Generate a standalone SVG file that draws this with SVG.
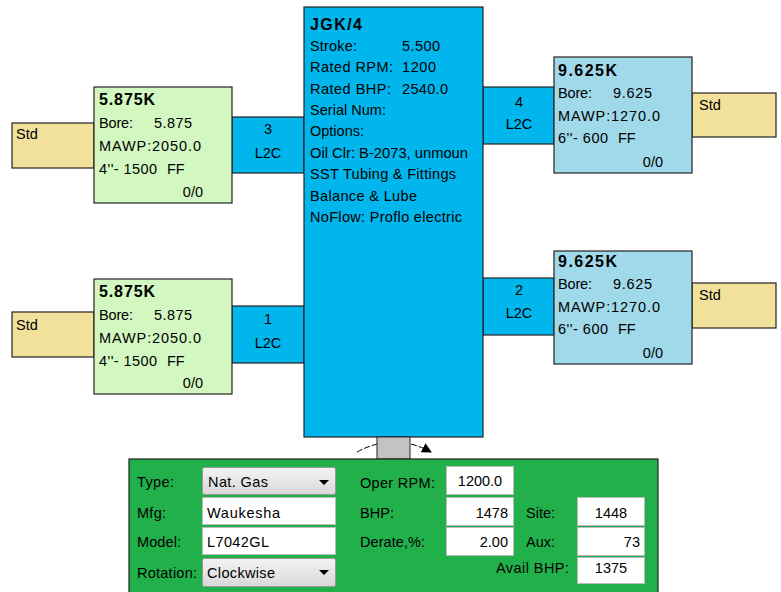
<svg xmlns="http://www.w3.org/2000/svg" width="781" height="592" viewBox="0 0 781 592">
<defs>
<style>
text{font-family:"Liberation Sans",Arial,sans-serif;font-size:14.5px;fill:#000}
.t{font-size:16px;font-weight:bold}
.std{fill:#f2e19b;stroke:#222;stroke-width:1.2}
.grn{fill:#d3f7c1;stroke:#222;stroke-width:1.2}
.lb{fill:#a0d9ea;stroke:#222;stroke-width:1.2}
.blu{fill:#00b6ec;stroke:#222;stroke-width:1.2}
.tb{fill:#fff;stroke:#bbb;stroke-width:1}
.dd{fill:url(#ddg);stroke:#999;stroke-width:1}
.m{text-anchor:middle}
.e{text-anchor:end}
</style>
<linearGradient id="ddg" x1="0" y1="0" x2="0" y2="1">
<stop offset="0" stop-color="#f4f4f4"/>
<stop offset="1" stop-color="#d8d8d8"/>
</linearGradient>
<marker id="ah" viewBox="0 0 10 10" refX="9" refY="5" markerWidth="10" markerHeight="10" orient="auto" markerUnits="userSpaceOnUse">
<path d="M0,0 L10,5 L0,10 z" fill="#000"/>
</marker>
</defs>
<rect width="781" height="592" fill="#fff"/>

<g id="connectors">
<path d="M357,452 Q394,432 431,452" fill="none" stroke="#000" stroke-width="1" stroke-dasharray="6,2" marker-end="url(#ah)"/>
<g id="conn3"><rect x="232" y="117" width="72" height="56" class="blu"/><text x="268" y="134" class="m">3</text><text x="268" y="158" class="m">L2C</text></g>
<g id="conn1"><rect x="232" y="306" width="72" height="57" class="blu"/><text x="268" y="324" class="m">1</text><text x="268" y="348" class="m">L2C</text></g>
<g id="conn4"><rect x="483" y="87" width="71" height="57" class="blu"/><text x="519" y="107" class="m">4</text><text x="519" y="129" class="m">L2C</text></g>
<g id="conn2"><rect x="483" y="278" width="71" height="57" class="blu"/><text x="519" y="295" class="m">2</text><text x="519" y="318" class="m">L2C</text></g>
</g>

<g id="frame">
<rect x="304" y="7" width="179" height="430" class="blu"/>
<text x="310" y="30" class="t" fill="#2a1a0a" textLength="52">JGK/4</text>
<text x="310" y="51" textLength="47">Stroke:</text><text x="402" y="51" textLength="38">5.500</text>
<text x="310" y="72" textLength="83">Rated RPM:</text><text x="402" y="72" textLength="34">1200</text>
<text x="310" y="93.5" textLength="81">Rated BHP:</text><text x="402" y="93.5" textLength="46">2540.0</text>
<text x="310" y="115" textLength="76">Serial Num:</text>
<text x="310" y="136" textLength="54">Options:</text>
<text x="310" y="157.5" textLength="158" lengthAdjust="spacingAndGlyphs">Oil Clr: B-2073, unmoun</text>
<text x="310" y="179" textLength="146">SST Tubing &amp; Fittings</text>
<text x="310" y="200.5" textLength="107">Balance &amp; Lube</text>
<text x="310" y="222" textLength="152">NoFlow: Proflo electric</text>
</g>

<g id="shaft"><rect x="377" y="437" width="33" height="22" fill="#c3c3c3" stroke="#222" stroke-width="1"/></g>

<g id="cyl3">
<rect x="12" y="123" width="82" height="45" class="std"/><text x="16" y="139">Std</text>
<rect x="94" y="87" width="138" height="116" class="grn"/>
<text x="99" y="105" class="t" textLength="56">5.875K</text>
<text x="99" y="128" textLength="34">Bore:</text><text x="154" y="128" textLength="38">5.875</text>
<text x="99" y="151" textLength="102">MAWP:2050.0</text>
<text x="99" y="174" textLength="58">4''- 1500</text><text x="167" y="174">FF</text>
<text x="203" y="197" class="e">0/0</text>
</g>

<g id="cyl1">
<rect x="12" y="312" width="82" height="45" class="std"/><text x="16" y="330">Std</text>
<rect x="94" y="279" width="138" height="115" class="grn"/>
<text x="99" y="297" class="t" textLength="56">5.875K</text>
<text x="99" y="320" textLength="34">Bore:</text><text x="154" y="320" textLength="38">5.875</text>
<text x="99" y="343" textLength="102">MAWP:2050.0</text>
<text x="99" y="366" textLength="58">4''- 1500</text><text x="167" y="366">FF</text>
<text x="203" y="388" class="e">0/0</text>
</g>

<g id="cyl4">
<rect x="692" y="93" width="84" height="44" class="std"/><text x="699" y="110">Std</text>
<rect x="554" y="57" width="138" height="116" class="lb"/>
<text x="558" y="76" class="t" textLength="59">9.625K</text>
<text x="558" y="98" textLength="34">Bore:</text><text x="613" y="98" textLength="39">9.625</text>
<text x="558" y="121" textLength="102">MAWP:1270.0</text>
<text x="558" y="143" textLength="50">6''- 600</text><text x="618" y="143">FF</text>
<text x="663" y="167" class="e">0/0</text>
</g>

<g id="cyl2">
<rect x="692" y="283" width="84" height="45" class="std"/><text x="699" y="300">Std</text>
<rect x="554" y="251" width="138" height="113" class="lb"/>
<text x="558" y="267" class="t" textLength="59">9.625K</text>
<text x="558" y="289" textLength="34">Bore:</text><text x="613" y="289" textLength="39">9.625</text>
<text x="558" y="312" textLength="102">MAWP:1270.0</text>
<text x="558" y="334" textLength="50">6''- 600</text><text x="618" y="334">FF</text>
<text x="663" y="358" class="e">0/0</text>
</g>

<g id="driver">
<rect x="129" y="459" width="529" height="140" fill="#22b04b" stroke="#222" stroke-width="1.2"/>
<text x="137" y="487" textLength="37">Type:</text>
<rect x="202.5" y="467.5" width="133" height="27" rx="2" class="dd"/>
<text x="208" y="487" textLength="60">Nat. Gas</text>
<path d="M319,480 L329,480 L324,485 z" fill="#000"/>
<text x="137" y="518" textLength="29">Mfg:</text>
<rect x="202.5" y="497.5" width="133" height="27" class="tb"/>
<text x="207" y="518" textLength="73">Waukesha</text>
<text x="137" y="547" textLength="44">Model:</text>
<rect x="202.5" y="527.5" width="133" height="27" class="tb"/>
<text x="207" y="547" textLength="62">L7042GL</text>
<text x="137" y="578" textLength="60">Rotation:</text>
<rect x="202.5" y="558.5" width="133" height="28" rx="2" class="dd"/>
<text x="207" y="578" textLength="68">Clockwise</text>
<path d="M319,570 L329,570 L324,575 z" fill="#000"/>

<text x="360" y="488" textLength="75">Oper RPM:</text>
<text x="360" y="518" textLength="34">BHP:</text>
<text x="360" y="547" textLength="65">Derate,%:</text>
<rect x="446.5" y="466.5" width="67" height="28" class="tb"/>
<text x="480" y="486" class="m">1200.0</text>
<rect x="446.5" y="497.5" width="67" height="28" class="tb"/>
<text x="508" y="518" class="e">1478</text>
<rect x="446.5" y="527.5" width="67" height="28" class="tb"/>
<text x="508" y="547" class="e">2.00</text>

<text x="526" y="518" textLength="29">Site:</text>
<text x="526" y="547" textLength="29">Aux:</text>
<text x="569" y="573" class="e" textLength="73">Avail BHP:</text>
<rect x="577.5" y="497.5" width="67" height="28" class="tb"/>
<text x="611" y="518" class="m">1448</text>
<rect x="577.5" y="527.5" width="67" height="28" class="tb"/>
<text x="640" y="547" class="e">73</text>
<rect x="577.5" y="557.5" width="67" height="26" class="tb"/>
<text x="611" y="573" class="m">1375</text>
</g>
</svg>
